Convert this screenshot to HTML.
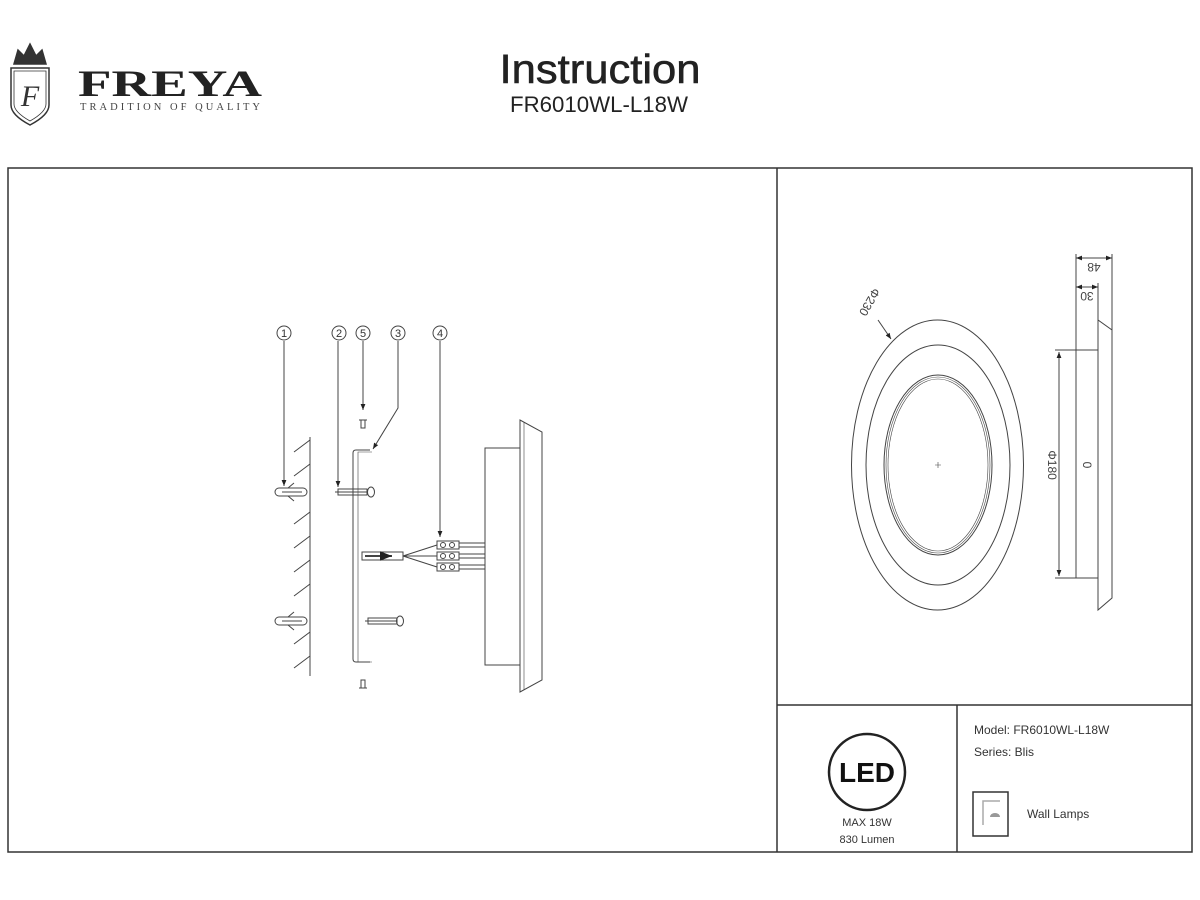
<!DOCTYPE html>
<html><head><meta charset="utf-8"><style>
html,body{margin:0;padding:0;background:#fff;}
svg{display:block;font-family:"Liberation Sans",sans-serif;}
</style></head><body>
<svg width="1200" height="900" viewBox="0 0 1200 900" xmlns="http://www.w3.org/2000/svg">
<defs>
<marker id="ah" viewBox="0 0 10 10" refX="10" refY="5" markerWidth="6" markerHeight="6" orient="auto-start-reverse"><path d="M0,1 L10,5 L0,9 z" fill="#222"/></marker>
</defs>
<rect width="1200" height="900" fill="#fff"/>
<!-- Logo -->
<g stroke="#333" fill="none" stroke-width="1.5">
<path d="M11,68 L11,105 Q11,115 30,125 Q49,115 49,105 L49,68 Z"/>
<path d="M14,71 L14,104 Q14,112 30,121 Q46,112 46,104 L46,71 Z" stroke-width="0.8"/>
<path d="M14,64 L18,50 L24,56 L30,44 L36,56 L42,50 L46,64 Z" fill="#333"/>
</g>
<text x="30" y="106" font-family="Liberation Serif,serif" font-style="italic" font-size="30" text-anchor="middle" fill="#333">F</text>
<text x="78" y="96" font-family="Liberation Serif,serif" font-weight="bold" font-size="37" fill="#222" textLength="184" lengthAdjust="spacingAndGlyphs">FREYA</text>
<text x="80" y="110" font-family="Liberation Serif,serif" font-size="10.5" fill="#444" textLength="180" lengthAdjust="spacing">TRADITION OF QUALITY</text>
<!-- Title -->
<text x="600" y="83" font-size="41" text-anchor="middle" fill="#222" stroke="#222" stroke-width="0.6" textLength="201" lengthAdjust="spacingAndGlyphs">Instruction</text>
<text x="599" y="112" font-size="22" text-anchor="middle" fill="#222" textLength="178" lengthAdjust="spacingAndGlyphs">FR6010WL-L18W</text>
<!-- Frame -->
<g stroke="#333" stroke-width="1.5" fill="none">
<rect x="8" y="168" width="1184" height="684"/>
<line x1="777" y1="168" x2="777" y2="852"/>
<line x1="777" y1="705" x2="1192" y2="705"/>
<line x1="957" y1="705" x2="957" y2="852"/>
</g>
<!-- Left drawing -->
<g stroke="#444" stroke-width="1" fill="none">
<circle cx="284" cy="333" r="7"/><circle cx="339" cy="333" r="7"/><circle cx="363" cy="333" r="7"/><circle cx="398" cy="333" r="7"/><circle cx="440" cy="333" r="7"/>
<line x1="284" y1="341" x2="284" y2="486" marker-end="url(#ah)"/>
<line x1="338" y1="341" x2="338" y2="487" marker-end="url(#ah)"/>
<line x1="363" y1="341" x2="363" y2="410" marker-end="url(#ah)"/>
<polyline points="398,341 398,408 373,449" marker-end="url(#ah)"/>
<line x1="440" y1="341" x2="440" y2="537" marker-end="url(#ah)"/>
<!-- wall -->
<line x1="310" y1="437" x2="310" y2="676"/>
<path d="M310,440 l-16,12 M310,464 l-16,12 M310,512 l-16,12 M310,536 l-16,12 M310,560 l-16,12 M310,584 l-16,12 M310,632 l-16,12 M310,656 l-16,12"/>
<!-- anchors -->
<rect x="275" y="488" width="32" height="8" rx="4"/><path d="M288,488 l6,-5 M288,496 l6,5 M282,492 h20"/>
<rect x="275" y="617" width="32" height="8" rx="4"/><path d="M288,617 l6,-5 M288,625 l6,5 M282,621 h20"/>
<!-- screws -->
<path d="M335,492 h32 M338,489 h29 v6 h-29 z"/><ellipse cx="371" cy="492" rx="3.5" ry="5"/>
<path d="M365,621 h32 M368,618 h29 v6 h-29 z"/><ellipse cx="400" cy="621" rx="3.5" ry="5"/>
<!-- bracket -->
<path d="M370,450 h-14 q-3,0 -3,3 v206 q0,3 3,3 h14"/>
<path d="M372,452 h-14 v210 h14" stroke-width="0.6"/>
<!-- small screws -->
<path d="M359,420 h8 M361,420 v8 h4 v-8"/>
<path d="M359,688 h8 M361,688 v-8 h4 v8"/>
<!-- cable -->
<rect x="362" y="552" width="41" height="8"/>
<line x1="365" y1="556" x2="392" y2="556" stroke-width="2" marker-end="url(#ah)"/>
<path d="M403,556 L437,545 M403,556 L437,556 M403,556 L437,567"/>
<rect x="437" y="541" width="22" height="8"/><rect x="437" y="552" width="22" height="8"/><rect x="437" y="563" width="22" height="8"/>
<circle cx="443" cy="545" r="2.5"/><circle cx="452" cy="545" r="2.5"/><circle cx="443" cy="556" r="2.5"/><circle cx="452" cy="556" r="2.5"/><circle cx="443" cy="567" r="2.5"/><circle cx="452" cy="567" r="2.5"/>
<path d="M459,543 h26 M459,547 h26 M459,554 h26 M459,558 h26 M459,565 h26 M459,569 h26"/>
<!-- lamp -->
<rect x="485" y="448" width="35" height="217"/>
<path d="M520,420 L520,692 L542,680 L542,432 Z"/>
<line x1="524" y1="422" x2="524" y2="690" stroke-width="0.6"/>
</g>
<!-- Right drawing -->
<g stroke="#444" stroke-width="1" fill="none">
<ellipse cx="937.5" cy="465" rx="86" ry="145"/>
<ellipse cx="938" cy="465" rx="72" ry="120"/>
<ellipse cx="938" cy="465" rx="54" ry="90"/>
<ellipse cx="938" cy="465" rx="52" ry="88" stroke-width="0.6"/>
<ellipse cx="938" cy="465" rx="50" ry="86" stroke-width="0.6"/>
<path d="M935,465 h6 M938,462 v6" stroke-width="0.6"/>
<line x1="878" y1="320" x2="891" y2="339" marker-end="url(#ah)"/>
<line x1="1076" y1="254" x2="1076" y2="578"/>
<line x1="1112" y1="254" x2="1112" y2="330"/>
<line x1="1098" y1="283" x2="1098" y2="320"/>
<line x1="1076" y1="258" x2="1112" y2="258" marker-start="url(#ah)" marker-end="url(#ah)"/>
<line x1="1076" y1="287" x2="1098" y2="287" marker-start="url(#ah)" marker-end="url(#ah)"/>
<rect x="1076" y="350" width="22" height="228"/>
<path d="M1098,320 L1098,610 L1112,598 L1112,330 Z"/>
<line x1="1055" y1="350" x2="1098" y2="350"/>
<line x1="1055" y1="578" x2="1076" y2="578"/>
<line x1="1059" y1="352" x2="1059" y2="576" marker-start="url(#ah)" marker-end="url(#ah)"/>
</g>
<g font-size="12" fill="#444">
<text transform="translate(866,300) rotate(120)" text-anchor="middle">Φ230</text>
<text transform="translate(1094,263) rotate(180)" text-anchor="middle">48</text>
<text transform="translate(1087,292) rotate(180)" text-anchor="middle">30</text>
<text transform="translate(1048,465) rotate(90)" text-anchor="middle">Φ180</text>
<text transform="translate(1083,465) rotate(90)" text-anchor="middle">0</text>
</g>
<g font-size="11" fill="#333" text-anchor="middle">
<text x="284" y="337">1</text><text x="339" y="337">2</text><text x="363" y="337">5</text><text x="398" y="337">3</text><text x="440" y="337">4</text>
</g>
<!-- LED panel -->
<circle cx="867" cy="772" r="38" fill="none" stroke="#222" stroke-width="2.5"/>
<text x="867" y="782" font-size="28" font-weight="bold" text-anchor="middle" fill="#111">LED</text>
<text x="867" y="826" font-size="11" text-anchor="middle" fill="#333">MAX 18W</text>
<text x="867" y="843" font-size="11" text-anchor="middle" fill="#333">830 Lumen</text>
<text x="974" y="734" font-size="12" fill="#333">Model: FR6010WL-L18W</text>
<text x="974" y="756" font-size="12" fill="#333">Series: Blis</text>
<rect x="973" y="792" width="35" height="44" fill="none" stroke="#333" stroke-width="1.5"/>
<path d="M983,825 V801 H1000" stroke="#aaa" stroke-width="1.5" fill="none"/>
<path d="M990,817 a5,4 0 0 1 10,0 z" fill="#999"/>
<text x="1027" y="818" font-size="12" fill="#333">Wall Lamps</text>
</svg>
</body></html>
